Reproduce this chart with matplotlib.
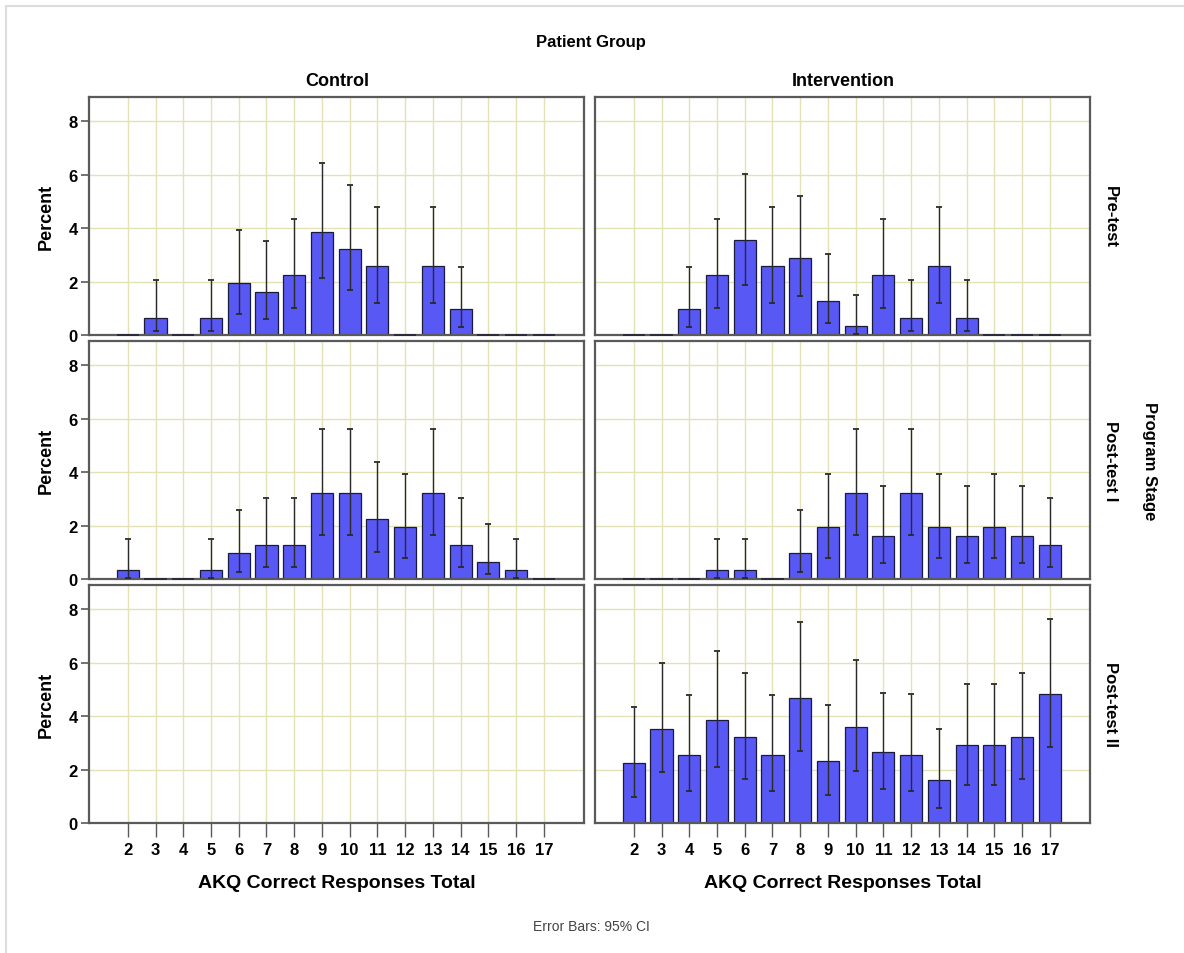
import matplotlib
matplotlib.use("Agg")
import matplotlib.pyplot as plt
import numpy as np
from matplotlib.lines import Line2D

# ---------------- data ----------------
scores = list(range(2, 18))
tick_labels = [str(s) for s in scores]
groups = ["Control", "Intervention"]
stages = ["Pre-test", "Post-test I", "Post-test II"]

ctrl_pre = [0, 0.64, 0, 0.64, 1.93, 1.61, 2.25, 3.86, 3.22, 2.57, 0, 2.57, 0.96, 0, 0, 0]
ctrl_pre_lo = [0, 0.15, 0, 0.15, 0.80, 0.60, 1.00, 2.12, 1.67, 1.20, 0, 1.20, 0.29, 0, 0, 0]
ctrl_pre_hi = [0, 2.04, 0, 2.04, 3.94, 3.50, 4.35, 6.42, 5.62, 4.77, 0, 4.77, 2.55, 0, 0, 0]

int_pre = [0, 0, 0.96, 2.25, 3.54, 2.57, 2.89, 1.29, 0.32, 2.25, 0.64, 2.57, 0.64, 0, 0, 0]
int_pre_lo = [0, 0, 0.29, 1.00, 1.87, 1.20, 1.45, 0.44, 0.03, 1.00, 0.15, 1.20, 0.15, 0, 0, 0]
int_pre_hi = [0, 0, 2.55, 4.35, 6.02, 4.77, 5.20, 3.03, 1.49, 4.35, 2.04, 4.77, 2.04, 0, 0, 0]

ctrl_post1 = [0.32, 0, 0, 0.32, 0.96, 1.29, 1.29, 3.22, 3.22, 2.25, 1.93, 3.22, 1.29, 0.64, 0.32, 0]
ctrl_post1_lo = [0.02, 0, 0, 0.02, 0.25, 0.44, 0.44, 1.66, 1.66, 1.02, 0.78, 1.66, 0.44, 0.18, 0.02, 0]
ctrl_post1_hi = [1.51, 0, 0, 1.51, 2.57, 3.02, 3.02, 5.60, 5.60, 4.37, 3.93, 5.60, 3.02, 2.04, 1.51, 0]

int_post1 = [0, 0, 0, 0.32, 0.32, 0, 0.96, 1.93, 3.22, 1.61, 3.22, 1.93, 1.61, 1.93, 1.61, 1.29]
int_post1_lo = [0, 0, 0, 0.02, 0.02, 0, 0.25, 0.78, 1.66, 0.59, 1.66, 0.78, 0.59, 0.78, 0.59, 0.44]
int_post1_hi = [0, 0, 0, 1.51, 1.51, 0, 2.57, 3.93, 5.60, 3.48, 5.60, 3.93, 3.48, 3.93, 3.48, 3.02]

ctrl_post2 = None  # no data for Control at Post-test II
int_post2 = [2.25, 3.52, 2.56, 3.84, 3.20, 2.56, 4.67, 2.32, 3.60, 2.64, 2.56, 1.62, 2.90, 2.90, 3.22, 4.81]
int_post2_lo = [0.97, 1.89, 1.20, 2.09, 1.64, 1.20, 2.69, 1.05, 1.93, 1.26, 1.21, 0.57, 1.43, 1.43, 1.64, 2.85]
int_post2_hi = [4.35, 6.00, 4.77, 6.43, 5.61, 4.77, 7.50, 4.43, 6.10, 4.87, 4.81, 3.51, 5.21, 5.21, 5.62, 7.63]

y_ticks = [0, 2, 4, 6, 8]

panels = {
    (0, 0): (ctrl_pre, ctrl_pre_lo, ctrl_pre_hi),
    (0, 1): (int_pre, int_pre_lo, int_pre_hi),
    (1, 0): (ctrl_post1, ctrl_post1_lo, ctrl_post1_hi),
    (1, 1): (int_post1, int_post1_lo, int_post1_hi),
    (2, 0): (ctrl_post2, None, None),
    (2, 1): (int_post2, int_post2_lo, int_post2_hi),
}

# ---------------- style ----------------
FONT = ["Liberation Sans Narrow", "Liberation Sans", "DejaVu Sans"]
plt.rcParams["font.family"] = FONT
W, H = 1184, 954
fig = plt.figure(figsize=(W / 100, H / 100), dpi=100)

bar_color = "#5858f4"
grid_color = "#e2e2b6"
frame_color = "#5a5a5a"
bar_w = 0.8

col_left = [89, 595]
col_w = 495
row_top = [98, 342, 586]
row_h = 238

def fx(px):
    return px / W

def fy(py):
    return 1 - py / H

for (r, c), (vals, lo, hi) in panels.items():
    ax = fig.add_axes([fx(col_left[c]), fy(row_top[r] + row_h), fx(col_w), row_h / H])
    ax.set_xlim(0.6, 18.45)
    ax.set_ylim(0, 8.9)
    ax.set_xticks(scores)
    ax.set_yticks(y_ticks)
    ax.grid(True, color=grid_color, linewidth=1.0, zorder=0)
    ax.set_axisbelow(True)
    for sp in ax.spines.values():
        sp.set_color(frame_color)
        sp.set_linewidth(1.6)
    if vals is not None:
        x = np.array(scores, dtype=float)
        v = np.array(vals, dtype=float)
        ax.bar(x, v, width=bar_w, color=bar_color, edgecolor="#1a1a3a",
               linewidth=0.9, zorder=2)
        z = v == 0
        if z.any():
            ax.hlines(np.zeros(z.sum()), x[z] - bar_w / 2, x[z] + bar_w / 2,
                      colors="#2a2a3a", linewidth=1.4, zorder=4, clip_on=False)
        l = np.array(lo, dtype=float)
        h = np.array(hi, dtype=float)
        m = v > 0
        ax.errorbar(x[m], v[m], yerr=[v[m] - l[m], h[m] - v[m]], fmt="none",
                    ecolor="#2a2a2a", elinewidth=1.0, capsize=2.5,
                    capthick=1.3, zorder=3)
    # ticks
    if c == 0:
        ax.tick_params(axis="y", length=6, width=1.2, color=frame_color,
                       labelsize=12, pad=2)
        for t in ax.get_yticklabels():
            t.set_fontweight("bold")
        ax.set_ylabel("Percent", fontsize=13, fontweight="bold", labelpad=10,
                      family=["Liberation Sans", "DejaVu Sans"])
    else:
        ax.tick_params(axis="y", length=0, labelleft=False)
    if r == 2:
        ax.set_xticklabels(tick_labels)
        ax.tick_params(axis="x", length=10, width=1.0, color=frame_color,
                       labelsize=12, pad=4)
        for t in ax.get_xticklabels():
            t.set_fontweight("bold")
        ax.set_xlabel("AKQ Correct Responses Total", fontsize=14,
                      fontweight="bold", labelpad=12)
    else:
        ax.tick_params(axis="x", length=0, labelbottom=False)

# ---------------- texts ----------------
fig.text(fx(591), fy(42), "Patient Group", ha="center", va="center",
         fontsize=12, fontweight="bold")
fig.text(fx(337), fy(82), "Control", ha="center", va="center",
         fontsize=13, fontweight="bold")
fig.text(fx(843), fy(82), "Intervention", ha="center", va="center",
         fontsize=13, fontweight="bold")
for r, s in enumerate(stages):
    fig.text(fx(1110), fy(row_top[r] + row_h / 2), s, ha="center", va="center",
             rotation=-90, fontsize=12, fontweight="bold",
             family=["Liberation Sans", "DejaVu Sans"])
fig.text(fx(1150), fy(461), "Program Stage", ha="center", va="center",
         rotation=-90, fontsize=12, fontweight="bold",
         family=["Liberation Sans", "DejaVu Sans"])
fig.text(fx(591), fy(927), "Error Bars: 95% CI", ha="center", va="center",
         fontsize=10, color="#444444")

# outer light frame
fig.add_artist(Line2D([fx(6), fx(6)], [fy(7), fy(954)], color="#dddddd",
                      linewidth=1.5, transform=fig.transFigure))
fig.add_artist(Line2D([fx(6), 1.0], [fy(7), fy(7)], color="#dddddd",
                      linewidth=1.5, transform=fig.transFigure))

fig.savefig("out.png", dpi=100, facecolor="white")
